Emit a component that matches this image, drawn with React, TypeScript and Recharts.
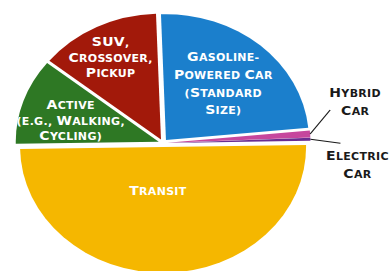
import React from 'react';
import { PieChart, Pie, Cell, Sector, Tooltip } from 'recharts';

// commute mode shares, clockwise from just past 12 o'clock
const categories = [
  'Gasoline-Powered Car (Standard Size)',
  'Hybrid Car',
  'Electric Car',
  'Transit',
  'Active (e.g., Walking, Cycling)',
  'SUV, Crossover, Pickup',
];
const shares = [24, 0.9, 0.4, 50, 11, 13.7];
const labelLines = [
  ['Gasoline-', 'Powered Car', '(Standard', 'Size)'],
  ['Hybrid', 'Car'],
  ['Electric', 'Car'],
  ['Transit'],
  ['Active', '(e.g., Walking,', 'Cycling)'],
  ['SUV,', 'Crossover,', 'Pickup'],
];

const colors = ['#1b7fcc', '#c6479d', '#6a2d90', '#f5b700', '#2e7824', '#a2190a'];

const data = categories.map((name, i) => ({ name, value: shares[i] }));

// the picture is stretched sideways, so the whole chart is squashed vertically
const K = 0.88;
const W = 390;
const H = Math.round(271 / K);
const EXPLODE = 4.5;
const RAD = Math.PI / 180;
const FONT = "'DejaVu Sans', Verdana, sans-serif";
const BIG = 14;
const SMALL = 11;

// inside labels sit on the mid angle at a fraction of the radius,
// outside labels hang off a short leader line (offsets in screen px)
const insideLayout: Record<number, { f: number; lh: number; dx: number; dy: number }> = {
  0: { f: 0.64, lh: 17.6, dx: 0, dy: 1 },
  3: { f: 0.38, lh: 16, dx: -6, dy: 0 },
  4: { f: 0.66, lh: 15.5, dx: -3, dy: 4 },
  5: { f: 0.77, lh: 15.6, dx: -3, dy: 1 },
};
const outsideLayout: Record<number, { lx: number; ly: number; tx: number; ty: number }> = {
  1: { lx: 20, ly: -24, tx: 45, ty: -37 },
  2: { lx: 30, ly: 4, tx: 47, ty: 21 },
};

// capitals stay big, lower case becomes small capitals
const smallCaps = (t: string) => {
  const runs: { s: string; big: boolean }[] = [];
  for (const ch of t) {
    const big = ch !== ch.toLowerCase();
    const last = runs[runs.length - 1];
    if (last && last.big === big) last.s += ch.toUpperCase();
    else runs.push({ s: ch.toUpperCase(), big });
  }
  return runs.map((r, i) => (
    <tspan key={i} fontSize={r.big ? BIG : SMALL}>
      {r.s}
    </tspan>
  ));
};

const renderSlice = (props: any) => {
  const { cx, cy, midAngle, innerRadius, outerRadius, startAngle, endAngle, fill } = props;
  return (
    <Sector
      cx={cx + EXPLODE * Math.cos(-midAngle * RAD)}
      cy={cy + EXPLODE * Math.sin(-midAngle * RAD)}
      innerRadius={innerRadius}
      outerRadius={outerRadius}
      startAngle={startAngle}
      endAngle={endAngle}
      fill={fill}
      stroke="none"
    />
  );
};

const renderLabel = (props: any) => {
  const { cx, cy, midAngle, outerRadius, index } = props;
  const lines = labelLines[index];
  const cos = Math.cos(-midAngle * RAD);
  const sin = Math.sin(-midAngle * RAD);

  if (insideLayout[index]) {
    const { f, lh, dx, dy } = insideLayout[index];
    const x = cx + f * outerRadius * cos + dx;
    const y = cy + f * outerRadius * sin + dy / K;
    const step = lh / K;
    const first = -((lines.length - 1) / 2) * step + 5;
    return (
      <text
        transform={`translate(${x} ${y})`}
        textAnchor="middle"
        fill="#fff"
        fontFamily={FONT}
        fontWeight={700}
        letterSpacing={0.3}
      >
        {lines.map((t, i) => (
          <tspan key={i} x={0} y={first + i * step}>
            {smallCaps(t)}
          </tspan>
        ))}
      </text>
    );
  }

  const o = outsideLayout[index];
  const sx = cx + (outerRadius + EXPLODE) * cos;
  const sy = cy + (outerRadius + EXPLODE) * sin;
  return (
    <g>
      <line x1={sx} y1={sy} x2={sx + o.lx} y2={sy + o.ly / K} stroke="#1a1a1a" strokeWidth={1.3} />
      <text
        transform={`translate(${sx} ${sy})`}
        textAnchor="middle"
        fill="#1a1a1a"
        fontFamily={FONT}
        fontWeight={700}
        letterSpacing={0.3}
      >
        {lines.map((t, i) => (
          <tspan key={i} x={o.tx} y={(o.ty + i * 17.5) / K}>
            {smallCaps(t)}
          </tspan>
        ))}
      </text>
    </g>
  );
};

export default function App() {
  return (
    <div
      style={{
        position: 'absolute',
        left: 0,
        top: 0,
        width: W,
        height: 271,
        overflow: 'hidden',
        background: '#fff',
      }}
    >
      <div style={{ transform: `scaleY(${K})`, transformOrigin: '0 0' }}>
        <PieChart width={W} height={H} margin={{ top: 0, right: 0, bottom: 0, left: 0 }}>
          <Tooltip defaultIndex={0} content={() => null} cursor={false} />
          <Pie
            data={data}
            dataKey="value"
            nameKey="name"
            cx={163}
            cy={143 / K}
            outerRadius={143}
            startAngle={92}
            endAngle={-268}
            stroke="none"
            label={renderLabel}
            labelLine={false}
            shape={renderSlice}
            activeShape={renderSlice}
            inactiveShape={renderSlice}
            isAnimationActive={false}
          >
            {data.map((d, i) => (
              <Cell key={d.name} fill={colors[i]} />
            ))}
          </Pie>
        </PieChart>
      </div>
    </div>
  );
}
